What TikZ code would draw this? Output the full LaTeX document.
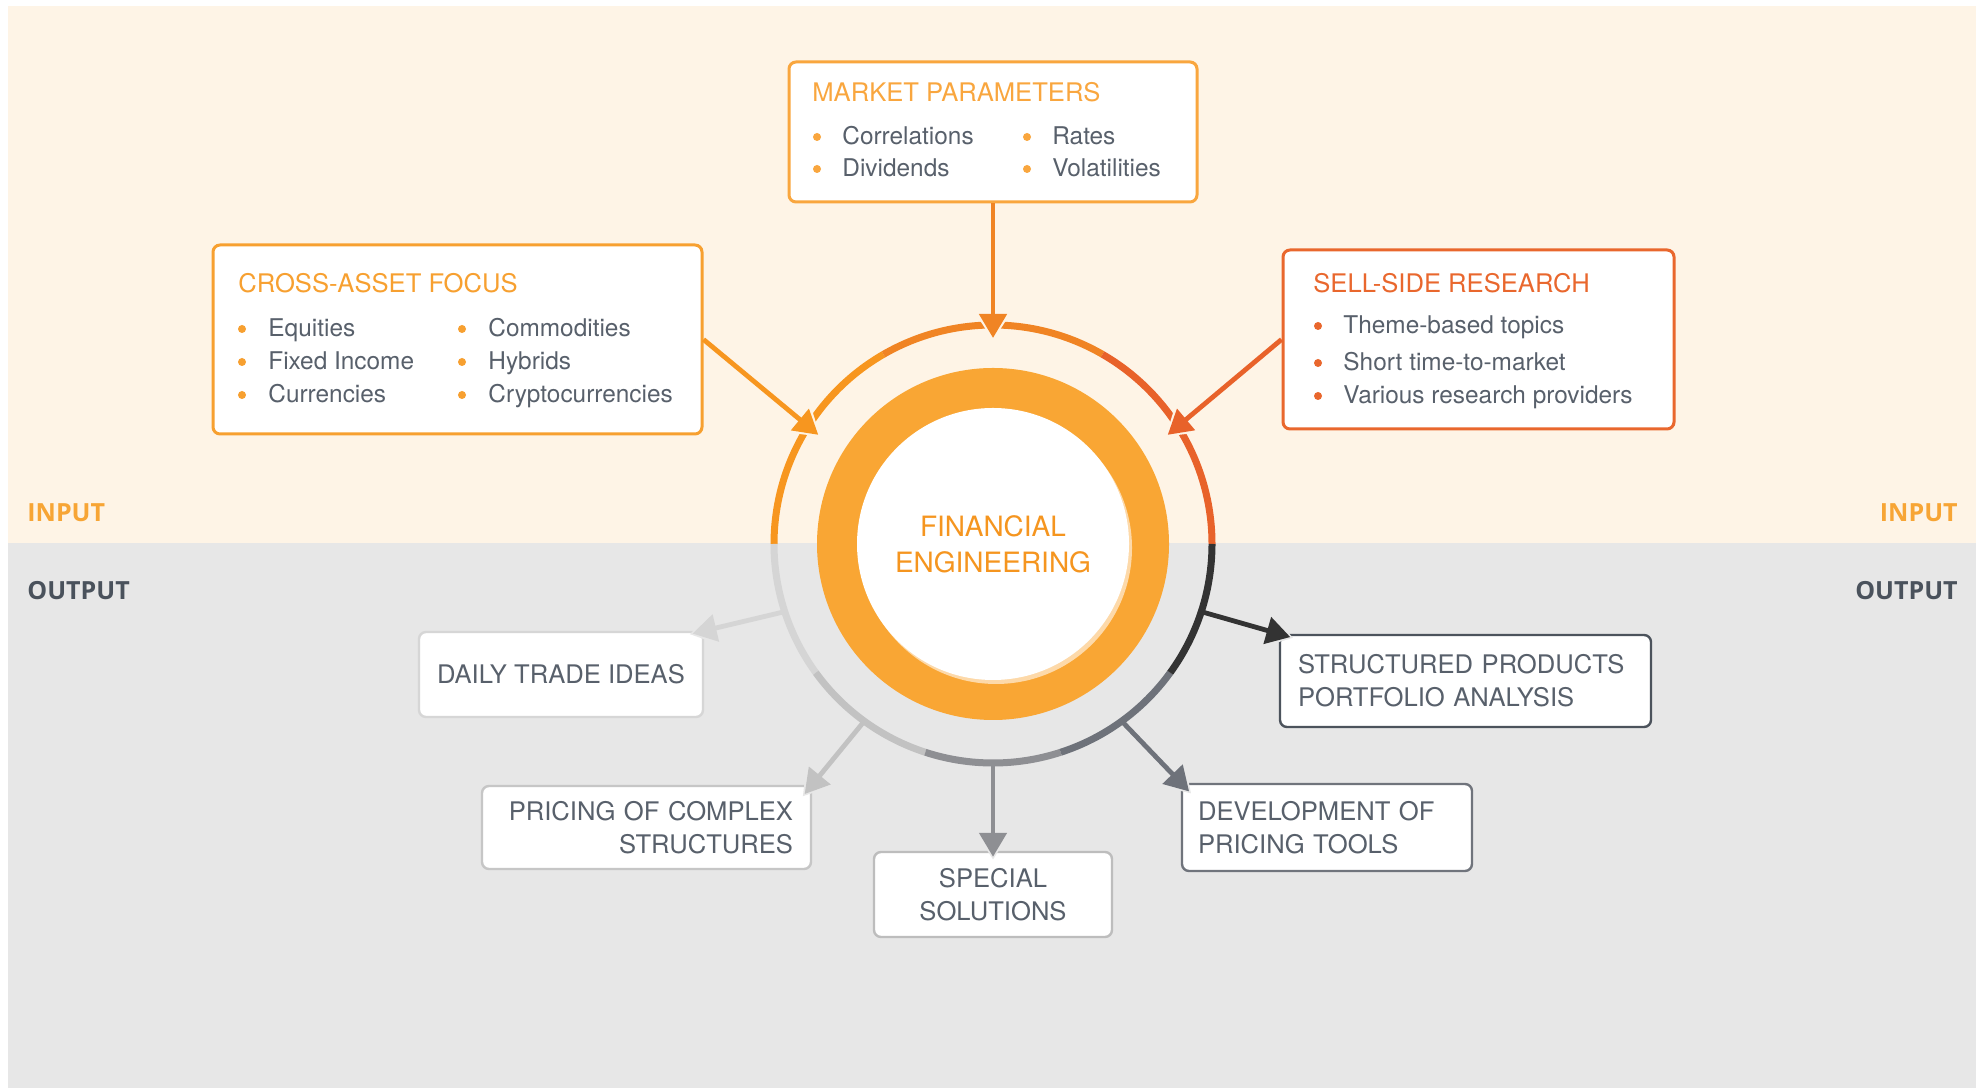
\documentclass[tikz,border=0pt]{standalone}
\usepackage{fontspec}
\setmainfont{TeX Gyre Heros}
\newfontfamily\tagfont{Open Sans}
\usetikzlibrary{arrows.meta}
\definecolor{peachbg}{HTML}{FEF4E6}
\definecolor{graybg}{HTML}{E7E7E7}
\definecolor{bmarket}{HTML}{F9A63E}
\definecolor{bcross}{HTML}{F7A030}
\definecolor{bsell}{HTML}{E9672D}
\definecolor{orA}{HTML}{F7961F}
\definecolor{orB}{HTML}{F08424}
\definecolor{orC}{HTML}{E8622A}
\definecolor{ringor}{HTML}{F9A634}
\definecolor{shadowor}{HTML}{FDD9A9}
\definecolor{coreor}{HTML}{F5951F}
\definecolor{txtgray}{HTML}{58606B}
\definecolor{inor}{HTML}{F7A535}
\definecolor{outgray}{HTML}{4A525C}
\definecolor{g1}{HTML}{D5D5D5}
\definecolor{g2}{HTML}{C2C2C2}
\definecolor{g3}{HTML}{8E8F93}
\definecolor{g4}{HTML}{6E727A}
\definecolor{g5}{HTML}{333333}
\definecolor{bdaily}{HTML}{D6D6D6}
\definecolor{bprice}{HTML}{C6C6C6}
\definecolor{bspecial}{HTML}{BDBDBD}
\definecolor{bdev}{HTML}{70747C}
\definecolor{bstruct}{HTML}{4C535C}
\tikzset{
  inbox/.style={draw=#1, line width=1.5pt, rounded corners=3.5pt, fill=white},
  outbox/.style={draw=#1, line width=1.2pt, rounded corners=3.5pt, fill=white, text=txtgray,
    font=\fontsize{12.8}{16.5}\selectfont, inner ysep=0pt},
  boxtitle/.style={anchor=base west, inner sep=0pt, text=#1, font=\fontsize{12.8}{15}\selectfont},
  item/.style={anchor=base west, inner sep=0pt, text=txtgray, font=\fontsize{12.2}{15}\selectfont},
  side/.style={inner sep=0pt, font=\tagfont\bfseries\fontsize{12.5}{15}\selectfont},
  seg/.style={draw=#1, line width=3.5pt},
  feed/.style={draw=#1, line width=2.4pt, -{Triangle[length=12pt,width=13.5pt]}},
  halo/.style 2 args={preaction={draw=#1, line width=4.8pt, shorten <=3pt, shorten >=#2,
    -{Triangle[length=15pt,width=18pt]}}}
}
\begin{document}
\begin{tikzpicture}[x=0.5pt,y=0.5pt]
\useasboundingbox (0,0) rectangle (1984,1090);
\fill[peachbg] (8,547) rectangle (1976,1084);
\fill[graybg] (8,2) rectangle (1976,547);

\node[side, text=inor, anchor=base west] (in-l) at (27,568) {INPUT};
\node[side, text=outgray, anchor=base west] (out-l) at (27,490) {OUTPUT};
\node[side, text=inor, anchor=base east] (in-r) at (1958,568) {INPUT};
\node[side, text=outgray, anchor=base east] (out-r) at (1958,490) {OUTPUT};

\node[inbox=bmarket, minimum width=204pt, minimum height=70pt] (market) at (993,958) {};
\node[boxtitle=bmarket] (market-t) at (812,988) {MARKET PARAMETERS};
\foreach \t/\x/\y [count=\i] in {Correlations/842/945, Dividends/842/913, Rates/1052/945, Volatilities/1052/913} {
  \fill[bmarket] (\x-25,\y+8) circle[radius=4];
  \node[item] (market-\i) at (\x,\y) {\t};
}

\node[inbox=bcross, minimum width=244.5pt, minimum height=94.5pt] (cross) at (457.5,750.5) {};
\node[boxtitle=bcross] (cross-t) at (238,797) {CROSS-ASSET FOCUS};
\foreach \t/\x/\y [count=\i] in {Equities/268/753, Fixed Income/268/720, Currencies/268/687, Commodities/488/753, Hybrids/488/720, Cryptocurrencies/488/687} {
  \fill[bcross] (\x-26,\y+8) circle[radius=4];
  \node[item] (cross-\i) at (\x,\y) {\t};
}

\node[inbox=bsell, minimum width=195.5pt, minimum height=89.5pt] (sell) at (1478.5,750.5) {};
\node[boxtitle=bsell] (sell-t) at (1313,797) {SELL-SIDE RESEARCH};
\foreach \t/\y [count=\i] in {Theme-based topics/756, Short time-to-market/719, Various research providers/686} {
  \fill[bsell] (1318,\y+8) circle[radius=4];
  \node[item] (sell-\i) at (1343,\y) {\t};
}

\node[outbox=bdaily, minimum width=142pt, minimum height=42.5pt] (daily) at (561,415.5) {DAILY TRADE IDEAS};
\node[outbox=bprice, text width=146.5pt, inner xsep=9pt, minimum height=41.5pt, align=right] (pricing) at (646.5,262.5) {PRICING OF COMPLEX\\STRUCTURES};
\node[outbox=bspecial, minimum width=119pt, minimum height=42.5pt, align=center] (special) at (993,195.5) {SPECIAL\\SOLUTIONS};
\node[outbox=bdev, text width=129pt, inner xsep=8pt, minimum height=43.5pt, align=left] (dev) at (1327,262.5) {DEVELOPMENT OF\\PRICING TOOLS};
\node[outbox=bstruct, text width=167.5pt, inner xsep=9pt, minimum height=46pt, align=left] (struct) at (1465.5,409) {STRUCTURED PRODUCTS\\PORTFOLIO ANALYSIS};

\node[circle, minimum size=219pt, inner sep=0pt, outer sep=0pt] (ring) at (993,546) {};
\node[circle, minimum size=206pt, inner sep=0pt, outer sep=0pt] (hub) at (993,546) {};
\draw[seg=orA] (ring.180) arc[start angle=180, end angle=120, radius=219];
\draw[seg=orB] (ring.120) arc[start angle=120, end angle=60, radius=219];
\draw[seg=orC] (ring.60) arc[start angle=60, end angle=0, radius=219];
\foreach \a/\c in {180/g1, 216/g2, 252/g3, 288/g4, 324/g5}
  \draw[seg=\c] (ring.\a) arc[start angle=\a, delta angle=36, radius=219];

\node[circle, fill=ringor, minimum size=176pt] (disc) at (ring.center) {};
\fill[shadowor] (996,542) circle[radius=136];
\node[circle, fill=white, minimum size=136pt, text=coreor, align=center,
  font=\fontsize{14}{18}\selectfont] (core) at (ring.center) {FINANCIAL\\ENGINEERING};

\draw[feed=orB, halo={peachbg}{-1.5pt}] (market) -- (hub.90);
\draw[feed=orA, halo={peachbg}{-1.5pt}] (cross.east) -- (hub.148);
\draw[feed=orC, halo={peachbg}{-1.5pt}] (sell.west) -- (hub.32);

\draw[feed=g1, shorten >=-6pt, halo={graybg}{-7.5pt}] (ring.198) -- (daily.north east);
\draw[feed=g2, shorten >=-6pt, halo={graybg}{-7.5pt}] (ring.234) -- (pricing.north east);
\draw[feed=g3, shorten >=-3pt, halo={graybg}{-4.5pt}] (ring.270) -- (special.north);
\draw[feed=g4, shorten >=-6pt, halo={graybg}{-7.5pt}] (ring.306) -- (dev.north west);
\draw[feed=g5, shorten >=-6pt, halo={graybg}{-7.5pt}] (ring.342) -- (struct.north west);
\end{tikzpicture}
\end{document}
